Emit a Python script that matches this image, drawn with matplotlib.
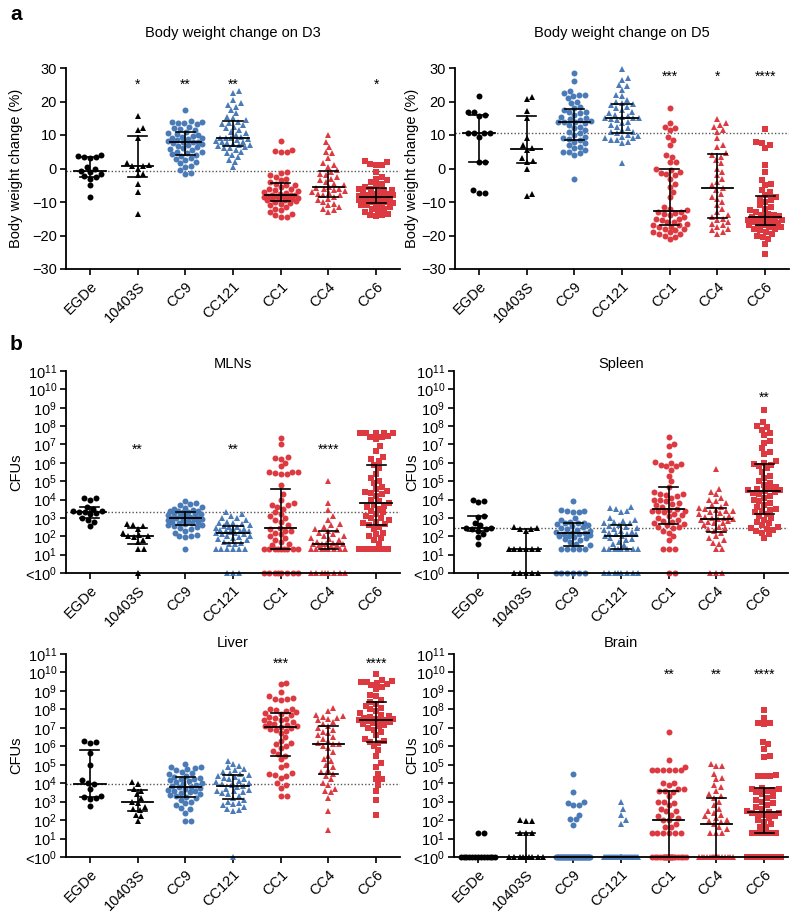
import numpy as np
import matplotlib
matplotlib.use('Agg')
import matplotlib.pyplot as plt
from matplotlib.ticker import FixedLocator, NullLocator

plt.rcParams['font.family'] = ['Liberation Sans', 'DejaVu Sans']
plt.rcParams['font.size'] = 10

groups = ['EGDe', '10403S', 'CC9', 'CC121', 'CC1', 'CC4', 'CC6']
markers = ['o', '^', 'o', '^', 'o', '^', 's']
colors = ['black', 'black', '#4a7bb7', '#4a7bb7', '#dc3a40', '#dc3a40', '#dc3a40']

# body weight change (%) on day 3, one list per strain
d3_vals = [
    [4.0, 3.7, 3.5, 3.3, 3.0, 0.5, 0.0, -0.8, -1.0, -1.5, -2.2, -2.5, -3.0, -4.8, -8.5],
    [15.7, 12.2, 11.5, 9.0, 1.5, 1.0, 0.8, 0.8, 0.0, -1.5, -2.0, -4.5, -7.0, -13.5],
    [17.5, 14.2, 14.0, 13.8, 13.5, 13.5, 13.2, 12.5, 12.0, 11.8, 11.5, 11.0, 10.5, 10.2,
     10.0, 9.8, 9.5, 9.2, 9.0, 8.8, 8.5, 8.2, 8.0, 8.0, 7.8, 7.5, 7.2, 7.0, 6.8, 6.5, 6.0,
     5.8, 5.5, 5.0, 4.8, 4.5, 4.2, 4.0, 3.8, 3.2, 2.8, 2.5, 2.0, 1.5, 0.8, 0.5, -0.5, -1.2, -1.5],
    [23.0, 22.5, 20.5, 19.5, 19.0, 18.5, 17.5, 16.5, 15.5, 15.0, 14.5, 14.0, 13.5, 13.2,
     13.0, 12.5, 12.0, 11.5, 11.0, 10.5, 10.0, 9.5, 9.2, 9.0, 9.0, 8.8, 8.5, 8.2, 8.0, 7.8,
     7.5, 7.2, 7.0, 7.0, 6.8, 6.5, 6.2, 6.0, 5.5, 5.0, 4.5, 4.0, 3.5, 2.5, 2.0, 0.3],
    [8.3, 5.5, 5.2, 5.0, 4.8, -1.0, -1.2, -2.0, -2.5, -3.0, -3.5, -4.0, -4.5, -4.8, -5.0,
     -5.5, -6.0, -6.2, -6.5, -6.8, -7.0, -7.2, -7.5, -7.8, -8.0, -8.0, -8.2, -8.2, -8.3,
     -8.5, -8.5, -8.8, -9.0, -9.0, -9.2, -9.5, -9.5, -9.8, -10.0, -10.2, -10.5, -11.0,
     -11.5, -12.0, -12.5, -13.0, -13.5, -14.0, -14.5, -14.5],
    [10.0, 8.0, 6.5, 5.0, 4.5, 3.0, 1.5, 1.0, 0.5, -0.5, -1.0, -1.5, -2.0, -2.5, -3.0,
     -3.5, -4.0, -4.5, -5.0, -5.5, -5.8, -6.0, -6.2, -6.5, -6.8, -7.0, -7.2, -7.5, -7.8,
     -8.0, -8.5, -9.0, -9.5, -10.0, -10.5, -11.0, -11.5, -12.0, -12.5, -13.0],
    [2.3, 2.0, 1.2, 1.0, 1.0, -1.0, -2.5, -3.0, -3.5, -4.0, -4.5, -5.0, -5.5, -6.0, -6.0,
     -6.5, -6.8, -7.0, -7.2, -7.5, -7.5, -7.8, -8.0, -8.0, -8.2, -8.5, -8.5, -8.8, -8.8,
     -9.0, -9.0, -9.0, -9.2, -9.2, -9.5, -9.5, -9.8, -10.0, -10.0, -10.2, -10.5, -10.5,
     -11.0, -11.0, -11.5, -12.0, -12.0, -12.5, -13.0, -13.5, -14.0, -14.0, -14.2],
]

# body weight change (%) on day 5
d5_vals = [
    [21.5, 17.0, 17.0, 16.0, 15.8, 10.5, 10.5, 10.5, 10.5, 9.5, 1.8, 1.8, -6.5, -7.2, -7.2],
    [21.3, 20.8, 17.2, 15.2, 9.2, 7.0, 6.0, 5.5, 3.0, 2.2, 2.0, 0.0, -7.5, -8.2],
    [28.5, 26.0, 23.0, 22.5, 22.0, 22.0, 21.5, 21.0, 20.0, 19.5, 18.5, 18.0, 17.5, 17.0,
     17.0, 16.5, 16.0, 15.5, 15.0, 14.8, 14.5, 14.2, 14.0, 14.0, 13.8, 13.5, 13.0, 12.5,
     12.0, 11.5, 11.0, 10.5, 10.0, 9.5, 9.0, 8.8, 8.5, 8.0, 7.5, 7.0, 6.5, 6.0, 5.5, 5.0,
     4.8, 4.5, 4.0, -3.0],
    [29.8, 27.0, 26.5, 25.0, 24.5, 23.5, 22.0, 21.5, 20.5, 20.0, 19.5, 19.2, 19.0, 18.5,
     18.0, 17.5, 17.0, 16.5, 16.0, 15.8, 15.5, 15.2, 15.0, 15.0, 14.8, 14.5, 14.0, 13.5,
     13.0, 12.5, 12.0, 11.5, 11.0, 10.8, 10.5, 10.0, 9.8, 9.5, 9.2, 9.0, 8.5, 8.5, 8.0,
     7.5, 1.7],
    [18.2, 13.5, 12.5, 12.0, 11.5, 9.5, 8.5, 7.0, 4.0, 3.5, 2.0, 1.8, 0.0, -0.5, -1.0,
     -1.2, -1.5, -2.0, -3.0, -4.5, -5.5, -7.0, -8.5, -11.5, -12.0, -12.5, -13.0, -13.0,
     -13.2, -13.5, -14.0, -14.5, -15.0, -15.0, -15.5, -16.0, -16.0, -16.5, -17.0, -17.0,
     -17.5, -17.5, -18.0, -18.0, -18.5, -19.0, -19.0, -19.5, -19.5, -20.0, -20.5, -21.0],
    [14.8, 13.5, 13.0, 12.5, 11.5, 11.0, 9.0, 7.0, 6.5, 4.5, 4.0, 3.5, 2.5, 1.5, 0.0,
     -1.0, -2.0, -3.0, -4.0, -5.0, -5.8, -6.5, -7.5, -8.5, -9.0, -10.0, -11.0, -12.0,
     -13.0, -14.0, -14.5, -15.0, -15.5, -16.0, -16.5, -17.0, -17.5, -18.0, -18.5, -19.0, -19.5],
    [11.8, 8.0, 7.5, 7.0, 6.0, 1.0, -1.0, -3.5, -4.5, -5.0, -6.5, -7.0, -8.0, -8.5, -9.0,
     -9.5, -10.0, -11.0, -11.5, -12.0, -12.5, -13.0, -13.5, -13.8, -14.0, -14.2, -14.5,
     -14.8, -15.0, -15.0, -15.2, -15.5, -15.5, -15.8, -16.0, -16.0, -16.2, -16.5, -16.5,
     -17.0, -17.0, -17.5, -17.5, -18.0, -18.0, -18.5, -19.0, -19.5, -20.0, -20.5, -21.0,
     -22.5, -25.5],
]

# CFUs as log10 exponents; 0 means below detection (<10^0)
mln_log = [
    [4.1, 4.1, 4.0, 3.6, 3.5, 3.35, 3.35, 3.3, 3.3, 3.25, 3.2, 3.0, 2.9, 2.8, 2.55],
    [2.65, 2.6, 2.55, 2.4, 2.2, 2.05, 2.0, 2.0, 1.95, 1.8, 1.7, 1.3, 1.3, 0],
    [3.9, 3.8, 3.75, 3.7, 3.6, 3.55, 3.5, 3.45, 3.4, 3.4, 3.35, 3.3, 3.3, 3.25, 3.2, 3.2,
     3.15, 3.1, 3.1, 3.05, 3.0, 3.0, 3.0, 2.95, 2.95, 2.9, 2.9, 2.85, 2.8, 2.8, 2.75, 2.7,
     2.65, 2.6, 2.6, 2.55, 2.5, 2.45, 2.4, 2.3, 2.2, 2.05, 2.0, 2.0, 1.95, 1.3],
    [3.3, 3.2, 3.1, 3.0, 3.0, 2.9, 2.8, 2.75, 2.7, 2.65, 2.6, 2.55, 2.5, 2.5, 2.45, 2.4,
     2.4, 2.35, 2.3, 2.3, 2.3, 2.25, 2.2, 2.2, 2.15, 2.1, 2.0, 2.0, 1.95, 1.9, 1.85, 1.8,
     1.7, 1.65, 1.6, 1.6, 1.3, 1.3, 1.3, 1.3, 1.3, 1.3, 0, 0, 0],
    [7.35, 7.0, 6.3, 6.25, 6.2, 6.0, 5.8, 5.5, 5.5, 5.5, 5.45, 5.4, 5.4, 4.8, 4.3, 4.0,
     3.8, 3.7, 3.7, 3.6, 3.5, 3.3, 3.2, 3.1, 3.0, 2.9, 2.8, 2.6, 2.45, 2.4, 2.3, 2.3, 2.2,
     2.1, 2.0, 1.9, 1.8, 1.7, 1.6, 1.5, 1.3, 1.3, 1.3, 1.3, 1.3, 1.3, 1.3, 1.3, 1.3,
     0, 0, 0, 0, 0, 0, 0, 0],
    [5.0, 3.8, 3.45, 3.1, 2.9, 2.65, 2.6, 2.5, 2.4, 2.35, 2.3, 2.2, 2.1, 2.0, 2.0, 1.9,
     1.85, 1.8, 1.7, 1.65, 1.6, 1.6, 1.6, 1.6, 1.55, 1.5, 1.45, 1.3, 1.3, 1.3, 1.3, 1.3,
     1.3, 1.3, 1.3, 0, 0, 0, 0, 0, 0, 0, 0],
    [7.65, 7.65, 7.65, 7.6, 7.6, 7.45, 7.4, 7.4, 7.3, 6.9, 6.65, 6.3, 6.2, 6.1, 5.9, 5.7,
     5.4, 5.2, 5.0, 4.9, 4.7, 4.6, 4.45, 4.4, 4.35, 4.3, 4.2, 4.0, 3.9, 3.8, 3.7, 3.65,
     3.6, 3.5, 3.4, 3.3, 3.2, 3.1, 3.0, 3.0, 2.9, 2.8, 2.7, 2.65, 2.6, 2.5, 2.4, 2.2, 2.1,
     2.0, 1.9, 1.8, 1.6, 1.3, 1.3, 1.3, 1.3, 1.3, 1.3],
]

spleen_log = [
    [4.0, 3.9, 3.85, 3.1, 3.05, 2.75, 2.6, 2.45, 2.45, 2.4, 2.4, 2.3, 2.1, 1.95, 1.6],
    [2.5, 2.45, 2.4, 2.4, 2.3, 1.3, 1.3, 1.3, 1.3, 1.3, 1.3, 0, 0, 0, 0, 0],
    [3.9, 3.45, 3.4, 3.35, 3.3, 3.3, 3.0, 2.9, 2.8, 2.75, 2.7, 2.7, 2.65, 2.6, 2.55, 2.5,
     2.45, 2.4, 2.35, 2.3, 2.25, 2.2, 2.2, 2.15, 2.1, 2.05, 2.0, 2.0, 1.95, 1.9, 1.85, 1.8,
     1.7, 1.6, 1.5, 1.3, 1.3, 1.3, 1.3, 1.3, 0, 0, 0, 0, 0, 0],
    [3.6, 3.55, 3.5, 3.4, 3.3, 3.0, 2.9, 2.85, 2.8, 2.75, 2.7, 2.6, 2.55, 2.5, 2.45, 2.4,
     2.35, 2.3, 2.25, 2.2, 2.15, 2.1, 2.1, 2.0, 2.0, 1.9, 1.85, 1.8, 1.7, 1.6, 1.5, 1.3,
     1.3, 1.3, 1.3, 1.3, 1.3, 1.3, 1.3, 0, 0, 0, 0, 0, 0, 0, 0],
    [7.4, 7.0, 6.9, 6.4, 6.05, 6.0, 5.95, 5.9, 5.8, 5.8, 5.6, 5.3, 5.0, 4.7, 4.4, 4.3,
     4.3, 4.25, 4.2, 4.1, 4.0, 3.95, 3.9, 3.8, 3.75, 3.7, 3.6, 3.5, 3.45, 3.4, 3.4, 3.35,
     3.3, 3.2, 3.15, 3.1, 3.0, 2.9, 2.85, 2.8, 2.7, 2.65, 2.6, 2.5, 2.5, 2.45, 2.3, 2.2,
     2.0, 1.8, 1.3, 1.3, 1.3, 0, 0],
    [5.65, 4.6, 4.4, 4.3, 4.1, 4.0, 3.9, 3.8, 3.7, 3.6, 3.55, 3.5, 3.45, 3.4, 3.35, 3.3,
     3.25, 3.2, 3.1, 3.05, 3.0, 3.0, 2.95, 2.95, 2.9, 2.85, 2.8, 2.75, 2.7, 2.6, 2.5,
     2.45, 2.4, 2.3, 2.2, 2.0, 1.9, 1.8, 1.65, 1.6, 1.3, 1.3, 0, 0, 0],
    [8.9, 8.2, 8.0, 7.95, 7.8, 7.6, 7.5, 7.2, 7.1, 6.8, 6.6, 6.5, 6.1, 6.0, 5.95, 5.9,
     5.8, 5.7, 5.5, 5.3, 5.2, 5.0, 4.9, 4.8, 4.7, 4.6, 4.55, 4.5, 4.5, 4.45, 4.4, 4.35,
     4.3, 4.2, 4.1, 4.0, 3.9, 3.8, 3.7, 3.6, 3.5, 3.45, 3.4, 3.3, 3.2, 3.1, 3.0, 2.9, 2.8,
     2.7, 2.6, 2.5, 2.45, 2.4, 2.35, 2.3, 2.2, 2.1, 1.9],
]

liver_log = [
    [6.3, 6.25, 6.2, 5.65, 5.0, 4.15, 4.0, 3.95, 3.7, 3.3, 3.25, 3.2, 3.15, 2.75],
    [4.05, 3.95, 3.7, 3.6, 3.4, 3.2, 3.0, 2.95, 2.7, 2.6, 2.55, 2.3, 2.2, 1.95],
    [5.05, 4.9, 4.85, 4.8, 4.75, 4.7, 4.6, 4.55, 4.5, 4.4, 4.35, 4.3, 4.25, 4.2, 4.15,
     4.1, 4.05, 4.0, 3.95, 3.9, 3.85, 3.8, 3.8, 3.75, 3.7, 3.65, 3.6, 3.55, 3.5, 3.45, 3.4,
     3.35, 3.3, 3.25, 3.2, 3.1, 3.0, 2.9, 2.8, 2.65, 2.6, 2.4, 1.95, 1.95],
    [5.2, 5.05, 4.95, 4.85, 4.75, 4.7, 4.6, 4.55, 4.5, 4.45, 4.4, 4.35, 4.3, 4.25, 4.2,
     4.1, 4.05, 4.0, 3.95, 3.9, 3.85, 3.8, 3.7, 3.65, 3.6, 3.55, 3.5, 3.45, 3.4, 3.3, 3.2,
     3.1, 3.0, 2.95, 2.85, 2.8, 2.7, 2.6, 2.55, 2.5, 0],
    [9.45, 9.35, 8.95, 8.7, 8.6, 8.55, 8.55, 8.5, 8.0, 8.0, 7.95, 7.9, 7.85, 7.8, 7.75,
     7.7, 7.6, 7.55, 7.5, 7.45, 7.4, 7.3, 7.25, 7.2, 7.15, 7.1, 7.1, 7.05, 7.0, 6.95, 6.9,
     6.85, 6.7, 6.5, 6.3, 6.2, 6.1, 6.0, 5.9, 5.75, 5.6, 5.5, 5.3, 5.0, 4.9, 4.55, 4.5,
     4.45, 4.4, 4.3, 4.0, 3.9, 3.75, 3.3, 3.3],
    [8.1, 7.9, 7.7, 7.65, 7.6, 7.55, 7.5, 7.4, 7.3, 7.2, 7.1, 7.0, 6.9, 6.8, 6.7, 6.6,
     6.5, 6.4, 6.3, 6.2, 6.15, 6.1, 6.0, 5.9, 5.7, 5.5, 5.3, 5.2, 5.0, 4.9, 4.7, 4.6, 4.5,
     4.4, 4.2, 4.0, 3.9, 3.7, 3.6, 3.5, 3.2, 2.5, 1.45],
    [9.9, 9.6, 9.55, 9.5, 9.5, 9.45, 9.4, 9.3, 9.2, 9.1, 8.8, 8.7, 8.5, 8.4, 8.3, 8.2,
     8.1, 8.0, 7.9, 7.8, 7.7, 7.65, 7.6, 7.55, 7.5, 7.5, 7.45, 7.4, 7.4, 7.35, 7.3, 7.25,
     7.2, 7.15, 7.1, 7.0, 6.9, 6.8, 6.6, 6.4, 6.3, 6.25, 6.2, 6.0, 5.8, 5.5, 5.1, 4.9,
     4.5, 4.2, 4.2, 3.9, 3.6, 3.1, 2.3],
]

brain_log = [
    [1.3, 1.3] + [0] * 13,
    [2.0, 1.95, 1.95, 1.3, 1.3, 1.3] + [0] * 9,
    [4.5, 3.5, 3.0, 2.95, 2.8, 2.8, 2.3, 2.05, 2.05, 1.75] + [0] * 35,
    [3.0, 2.6, 2.3, 2.0, 1.8] + [0] * 40,
    [6.75, 5.25, 4.9, 4.7, 4.7, 4.7, 4.7, 4.7, 4.7, 4.0, 4.0, 3.9, 3.7, 3.7, 3.6, 3.55,
     3.5, 3.3, 3.0, 3.0, 2.9, 2.8, 2.6, 2.5, 2.5, 2.3, 2.2, 2.1, 2.0, 2.0, 1.8, 1.6, 1.6,
     1.3, 1.3, 1.3, 1.3, 1.3, 1.3] + [0] * 20,
    [5.05, 4.95, 4.95, 4.5, 4.3, 4.2, 3.9, 3.8, 3.6, 3.4, 3.3, 3.2, 3.0, 2.8, 2.6, 2.5,
     2.4, 2.3, 2.2, 2.1, 2.0, 1.95, 1.9, 1.8, 1.6, 1.5, 1.3, 1.3, 1.3] + [0] * 18,
    [7.95, 7.55, 7.25, 7.25, 7.2, 6.25, 6.1, 5.85, 5.5, 5.4, 4.45, 4.4, 4.4, 4.4, 3.75,
     3.7, 3.7, 3.65, 3.6, 3.5, 3.4, 3.3, 3.2, 3.1, 3.0, 2.9, 2.8, 2.7, 2.6, 2.5, 2.45,
     2.4, 2.4, 2.35, 2.3, 2.2, 2.1, 2.0, 1.9, 1.8, 1.6, 1.6, 1.3, 1.3, 1.3, 1.3, 1.3] + [0] * 14,
]

d3_stars = ['', '*', '**', '**', '', '', '*']
d5_stars = ['', '', '', '', '***', '*', '****']
mln_stars = ['', '**', '', '**', '', '****', '']
spleen_stars = ['', '', '', '', '', '', '**']
liver_stars = ['', '', '', '', '***', '', '****']
brain_stars = ['', '', '', '', '**', '**', '****']

W, H = 800, 914
fig = plt.figure(figsize=(W / 100, H / 100), dpi=100)


def add_ax(x0, x1, ytop, ybot):
    return fig.add_axes([x0 / W, 1 - ybot / H, (x1 - x0) / W, (ybot - ytop) / H])


def swarm(ypix, d=6.0, maxw=17.0):
    # simple beeswarm in pixel space, squeezed when it gets too wide
    xs = np.zeros(len(ypix))
    placed = []
    for k in np.argsort(ypix, kind='stable'):
        y = ypix[k]
        near = [(px, py) for px, py in placed if abs(py - y) < d]
        cands = [0.0]
        blocks = []
        for px, py in near:
            w = np.sqrt(d * d - (py - y) ** 2)
            blocks.append((px - w, px + w))
            cands += [px + w, px - w]
        cands.sort(key=abs)
        best = None
        for c in cands:
            if abs(c) <= maxw and all(not (lo + 1e-6 < c < hi - 1e-6) for lo, hi in blocks):
                best = c
                break
        if best is None:
            grid = np.linspace(-maxw, maxw, 35)
            score = [min(np.hypot(g - px, y - py) for px, py in near) - 1e-3 * abs(g) for g in grid]
            best = grid[int(np.argmax(score))]
        xs[k] = best
        placed.append((best, y))
    return xs


def panel(ax, data, stars, star_y, log, title, ylabel, ylab_x, title_pad):
    ax.set_xlim(-0.5, 6.5)
    if log:
        ax.set_yscale('log')
        ax.set_ylim(1, 1e11)
        ax.yaxis.set_major_locator(FixedLocator([10.0 ** k for k in range(12)]))
        ax.yaxis.set_minor_locator(NullLocator())
        labels = [r'<$\mathregular{10^{0}}$'] + [r'$\mathregular{10^{%d}}$' % k for k in range(1, 12)]
        ax.set_yticklabels(labels)
    else:
        ax.set_ylim(-30, 30)
        ax.set_yticks(range(-30, 31, 10))
    ax.set_xticks(range(7))
    ax.set_xticklabels(groups, rotation=45, ha='right', rotation_mode='anchor', fontsize=10.5)
    ax.tick_params(axis='y', labelsize=10.5, width=1.2, length=4, pad=2.5)
    ax.tick_params(axis='x', width=1.2, length=4)
    for s in ['top', 'right']:
        ax.spines[s].set_visible(False)
    for s in ['left', 'bottom']:
        ax.spines[s].set_linewidth(1.3)
    ax.set_title(title, fontsize=10.5, pad=title_pad)
    ax.set_ylabel(ylabel, fontsize=10.5)
    ax.yaxis.set_label_coords(ylab_x, 0.5)

    px_unit = ax.transData.transform((1, 1))[0] - ax.transData.transform((0, 1))[0]
    ref = None
    for i, vals in enumerate(data):
        v = np.array(vals, dtype=float)
        yv = 10.0 ** v if log else v
        ypix = ax.transData.transform(np.column_stack([np.full(len(yv), i), yv]))[:, 1]
        xs = i + swarm(ypix) / px_unit
        ms = {'o': 4.3, '^': 5.0, 's': 4.0}[markers[i]]
        ax.plot(xs, yv, ls='none', marker=markers[i], ms=ms, mew=0, color=colors[i],
                clip_on=False, zorder=2)
        q1, med, q3 = np.percentile(v, [25, 50, 75], method='weibull')
        if log:
            q1, med, q3 = 10 ** q1, 10 ** med, 10 ** q3
        if i == 0:
            ref = med
        ax.plot([i - 0.33, i + 0.33], [med, med], color='black', lw=1.3, zorder=4)
        ax.plot([i, i], [q1, q3], color='black', lw=1.2, zorder=4)
        for q in (q1, q3):
            ax.plot([i - 0.2, i + 0.2], [q, q], color='black', lw=1.2, zorder=4)
        if stars[i]:
            ax.text(i, star_y, stars[i], ha='center', va='center', fontsize=10, zorder=5)
    ax.axhline(ref, color='#555555', ls=(0, (1, 1.5)), lw=1.0, zorder=1)


ax1 = add_ax(66, 400, 68, 269)
panel(ax1, d3_vals, d3_stars, 25.0, False, 'Body weight change on D3',
      'Body weight change (%)', -0.128, 22)
ax2 = add_ax(455, 789, 68, 269)
panel(ax2, d5_vals, d5_stars, 27.5, False, 'Body weight change on D5',
      'Body weight change (%)', -0.108, 22)
ax3 = add_ax(66, 400, 371, 573)
panel(ax3, mln_log, mln_stars, 10 ** 6.7, True, 'MLNs', 'CFUs', -0.128, 2)
ax4 = add_ax(454, 788, 371, 573)
panel(ax4, spleen_log, spleen_stars, 10 ** 9.55, True, 'Spleen', 'CFUs', -0.105, 2)
ax5 = add_ax(66, 400, 654, 857)
panel(ax5, liver_log, liver_stars, 10 ** 10.45, True, 'Liver', 'CFUs', -0.128, 5)
ax6 = add_ax(454, 788, 654, 857)
panel(ax6, brain_log, brain_stars, 10 ** 9.9, True, 'Brain', 'CFUs', -0.105, 5)

fig.text(10 / W, 1 - 15 / H, 'a', fontsize=15, fontweight='bold', va='center')
fig.text(10 / W, 1 - 344 / H, 'b', fontsize=15, fontweight='bold', va='center')

fig.savefig('out.png', dpi=100)
